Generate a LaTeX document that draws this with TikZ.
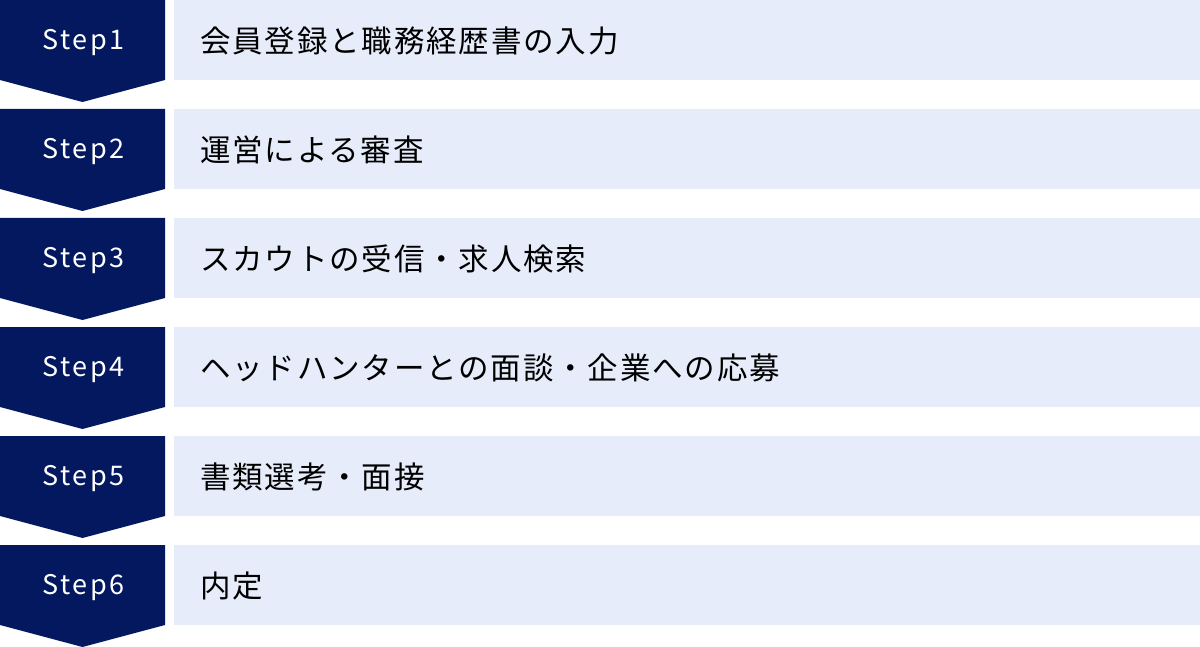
\documentclass[tikz,border=0pt]{standalone}
\usepackage{fontspec}
\setmainfont{Noto Sans CJK JP}
\newfontfamily\stepfont[LetterSpace=9]{Noto Sans CJK JP}
\newfontfamily\barfont[LetterSpace=6]{Noto Sans CJK JP}
\definecolor{navy}{RGB}{4,24,96}
\definecolor{pale}{RGB}{230,236,249}
\tikzset{
  stepshape/.style={fill=navy, draw=none},
  barshape/.style={fill=pale, draw=none},
  steplabel/.style={text=white, font=\stepfont\fontsize{27}{30}\selectfont, anchor=center, inner sep=0pt},
  barlabel/.style={text=black, font=\barfont\fontsize{30.5}{36}\selectfont, anchor=west, inner sep=0pt},
}
\begin{document}
\begin{tikzpicture}[x=1pt,y=-1pt]
\useasboundingbox (0,0) rectangle (1200,647);
\foreach \i/\t in {0/会員登録と職務経歴書の入力,1/運営による審査,2/スカウトの受信・求人検索,3/ヘッドハンターとの面談・企業への応募,4/書類選考・面接,5/内定}{
  \pgfmathsetmacro{\y}{\i*109}
  \pgfmathtruncatemacro{\n}{\i+1}
  \fill[stepshape] (0,\y) -- (165,\y) -- (165,\y+80) -- (82.5,\y+102) -- (0,\y+80) -- cycle;
  \node[steplabel] (s\n) at (83.5,\y+42.5) {Step\n};
  \fill[barshape] (174,\y) rectangle (1200,\y+80);
  \node[barlabel] (t\n) at (200,\y+41) {\t};
}
\end{tikzpicture}
\end{document}
